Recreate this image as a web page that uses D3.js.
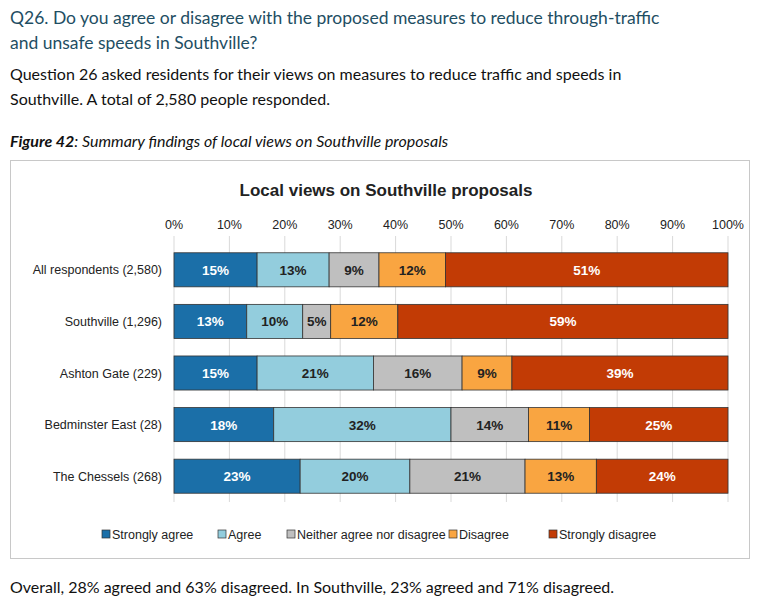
<!DOCTYPE html>
<html><head><meta charset="utf-8">
<script src="https://cdn.jsdelivr.net/npm/d3@7"></script>
<style>body{margin:0;background:#fff;font-family:"Open Sans","Noto Sans",sans-serif;}</style>
</head><body><svg id="c" width="770" height="602"></svg>
<script>
const categories=["All respondents (2,580)","Southville (1,296)","Ashton Gate (229)","Bedminster East (28)","The Chessels (268)"];
const seriesNames=["Strongly agree","Agree","Neither agree nor disagree","Disagree","Strongly disagree"];
const stronglyAgree=[15,13,15,18,23];
const agree=[13,10,21,32,20];
const neither=[9,5,16,14,21];
const disagree=[12,12,9,11,13];
const stronglyDisagree=[51,59,39,25,24];
const tickLabels=["0%","10%","20%","30%","40%","50%","60%","70%","80%","90%","100%"];
const colors=["#1b6fa8","#93cddd","#bfbfbf","#f9a541","#c23b05"];
const textColors=["#fff","#222","#222","#222","#fff"];
const series=[stronglyAgree,agree,neither,disagree,stronglyDisagree];

const svg=d3.select("#c");
const t=(x,y,s,o)=>{const e=svg.append("text").attr("x",x).attr("y",y).text(s);for(const k in o)e.attr(k,o[k]);return e;};
const hf={"font-family":"Lato, 'Noto Sans', sans-serif","font-size":17.5,fill:"#1e4e63"};
t(10,24,"Q26. Do you agree or disagree with the proposed measures to reduce through-traffic",hf);
t(10,49,"and unsafe speeds in Southville?",hf);
const bf={"font-family":"Lato, 'Noto Sans', sans-serif","font-size":16,fill:"#111"};
t(10,80,"Question 26 asked residents for their views on measures to reduce traffic and speeds in",bf);
t(10,105,"Southville. A total of 2,580 people responded.",bf);
const cap=t(10,147,"",{"font-family":"Lato, 'Noto Sans', sans-serif","font-size":16,"font-style":"italic",fill:"#111"});
cap.append("tspan").attr("font-weight","bold").text("Figure 42");
cap.append("tspan").text(": Summary findings of local views on Southville proposals");
t(10,593,"Overall, 28% agreed and 63% disagreed. In Southville, 23% agreed and 71% disagreed.",bf);

svg.append("rect").attr("x",10.5).attr("y",160.5).attr("width",739).attr("height",398).attr("fill","none").attr("stroke","#c8c8c8");
t(386,196,"Local views on Southville proposals",{"text-anchor":"middle","font-size":17,"font-weight":"bold",fill:"#222","font-family":"Arial, 'Liberation Sans', sans-serif"});

const x=d3.scaleLinear().domain([0,100]).range([174,728]);
const y=d3.scaleBand().domain(categories).range([244,502]).paddingInner(0.34).paddingOuter(0.17);
const g=svg.append("g").attr("font-family","Arial, 'Liberation Sans', sans-serif");
g.selectAll("line.grid").data(d3.range(0,101,10)).join("line").attr("x1",d=>x(d)).attr("x2",d=>x(d)).attr("y1",236).attr("y2",502).attr("stroke","#d9d9d9");
g.selectAll("text.tick").data(d3.range(0,101,10)).join("text").attr("x",d=>x(d)).attr("y",229).attr("text-anchor","middle").attr("font-size",12.5).attr("fill","#222").text((d,i)=>tickLabels[i]);
categories.forEach((c,i)=>{
  const vals=series.map(s=>s[i]);const sum=d3.sum(vals);let acc=0;
  g.append("text").attr("x",162).attr("y",y(c)+y.bandwidth()/2+4.5).attr("text-anchor","end").attr("font-size",12.5).attr("fill","#222").text(c);
  vals.forEach((v,j)=>{
    const x0=x(acc/sum*100),x1=x((acc+v)/sum*100);acc+=v;
    g.append("rect").attr("x",x0).attr("y",y(c)).attr("width",x1-x0).attr("height",y.bandwidth()).attr("fill",colors[j]).attr("stroke","#333").attr("stroke-width",0.8);
    g.append("text").attr("x",(x0+x1)/2).attr("y",y(c)+y.bandwidth()/2+5).attr("text-anchor","middle").attr("font-size",13.5).attr("font-weight","bold").attr("fill",textColors[j]).text(v+"%");
  });
});
const lx=[102,218,287,449,549];
seriesNames.forEach((n,j)=>{
  g.append("rect").attr("x",lx[j]).attr("y",530).attr("width",8).attr("height",8).attr("fill",colors[j]).attr("stroke","#333").attr("stroke-width",0.7);
  g.append("text").attr("x",lx[j]+10).attr("y",538.5).attr("font-size",12.5).attr("fill","#222").text(n);
});
</script></body></html>
